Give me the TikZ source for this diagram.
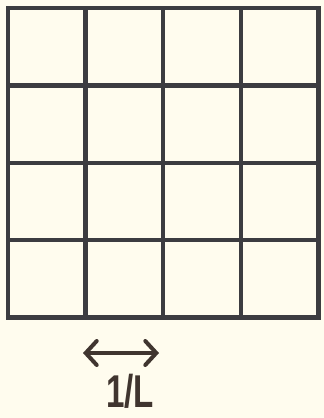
\documentclass[tikz,border=0pt]{standalone}
\usepackage{fontspec}
\setmainfont{Liberation Sans}
\usetikzlibrary{arrows.meta}

\definecolor{papier}{HTML}{FFFCEE}
\definecolor{trait}{HTML}{3C3C40}
\definecolor{fleche}{HTML}{40352F}

\tikzset{
  grille/.style={draw=trait, line width=4.5pt, line cap=rect},
  pas/.style={draw=fleche, line width=4pt, line cap=round,
    {Straight Barb[length=11pt,width=24pt,line cap=round]}-{Straight Barb[length=11pt,width=24pt,line cap=round]}}
}

\begin{document}
\begin{tikzpicture}[x=1pt,y=-1pt]

% Fond
\fill[papier] (0,0) rectangle (324,418);
\useasboundingbox (0,0) rectangle (324,418);

% Grille
\foreach \i in {0,...,4} {
  \draw[grille] ({8+77.6*\i},8) -- ({8+77.6*\i},317.5);
  \draw[grille] (8,{8+77.4*\i}) -- (318.4,{8+77.4*\i});
}

% Pas
\coordinate (gauche) at (83,353);
\coordinate (droite) at (159,353);
\draw[pas] (gauche) -- (droite);

\node[text=fleche, font=\fontsize{46}{46}\selectfont\bfseries, xscale=0.72]
  (etiquette) at (130,391)
  {1/L};

\end{tikzpicture}
\end{document}
